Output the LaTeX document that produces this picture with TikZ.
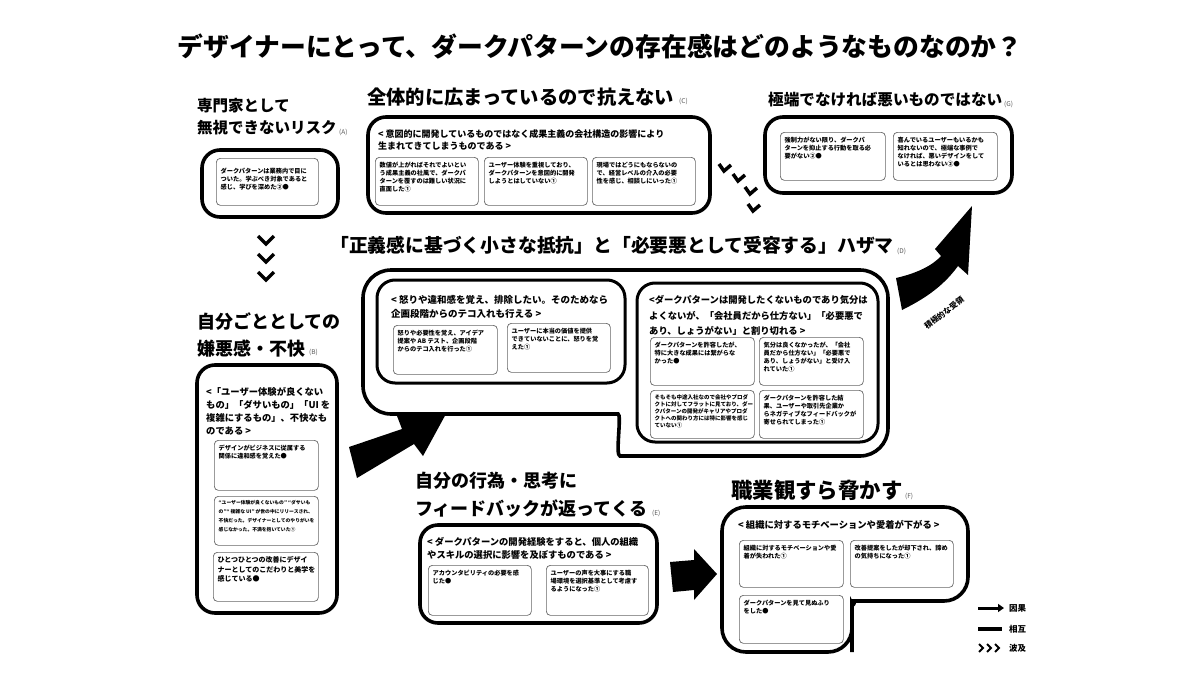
\documentclass[tikz,border=0pt]{standalone}
\usepackage{fontspec}
\setmainfont{Noto Sans CJK JP}
\newcommand{\jph}{\bfseries}
\usetikzlibrary{arrows.meta}
\tikzset{
 bigbox/.style={draw,line width=3.6pt,rounded corners=18pt},
 midbox/.style={draw,line width=3pt,rounded corners=18pt},
 ibox/.style={draw=black!60,line width=0.7pt,rounded corners=4pt,inner sep=0pt},
 itxt/.style={inner sep=0pt,align=left,font=\bfseries\fontsize{6.2}{8.2}\selectfont},
 hdr/.style={inner sep=0pt,align=left,anchor=north west},
 head/.style={inner sep=0pt,align=left},
 tag/.style={inner sep=0pt,anchor=west,text=black!65,font=\fontsize{6.5}{7}\selectfont},
 chev/.style={line width=3.5pt,line join=miter,line cap=butt},
 leg/.style={inner sep=0pt,anchor=west,font=\bfseries\fontsize{8.5}{9}\selectfont},
}
\newcommand{\ibx}[7][]{%
 \node[ibox,minimum width=#5pt,minimum height=#6pt,anchor=north west] (#2) at (#3,#4) {};
 \node[itxt,anchor=north west,#1] (#2t) at ([xshift=4.5pt,yshift=-4.5pt]#2.north west) {#7};}
\begin{document}
\begin{tikzpicture}[x=1pt,y=-1pt]
\useasboundingbox (0,0) rectangle (1200,675);
\fill[white] (0,0) rectangle (1200,675);

% title
\node[inner sep=0pt,font=\bfseries\fontsize{25.8}{30}\selectfont] (title) at (600,46) {デザイナーにとって、ダークパターンの存在感はどのようなものなのか？};

% ---------- A ----------
\node[head,anchor=north west,font=\jph\fontsize{15.5}{22}\selectfont] (hA) at (197,98) {専門家として\\無視できないリスク};
\node[tag] (tA) at (339,132) {(A)};
\draw[bigbox] (202,150) rectangle (338,217);
\ibx[yshift=-5pt]{a1}{216}{158}{102}{47}{ダークパターンは業務内で目に\\ついた。学ぶべき対象であると\\感じ、学びを深めた②●}

% ---------- C ----------
\node[head,anchor=west,font=\jph\fontsize{19.3}{22}\selectfont] (hC) at (367,97) {全体的に広まっているので抗えない};
\node[tag] (tC) at (679,101) {(C)};
\draw[bigbox] (368,117) rectangle (710,213);
\node[hdr,font=\bfseries\fontsize{9}{12}\selectfont] (hdC) at (378,129) {< 意図的に開発しているものではなく成果主義の会社構造の影響により\\生まれてきてしまうものである >};
\ibx{c1}{375}{157}{103}{48}{数値が上がればそれでよいとい\\う成果主義の社風で、ダークパ\\ターンを覆すのは難しい状況に\\直面した①}
\ibx{c2}{484}{157}{103}{48}{ユーザー体験を重視しており、\\ダークパターンを意図的に開発\\しようとはしていない①}
\ibx{c3}{592}{157}{103}{48}{現場ではどうにもならないの\\で、経営レベルの介入の必要\\性を感じ、相談しにいった①}

% ---------- G ----------
\node[head,anchor=west,font=\jph\fontsize{15.6}{20}\selectfont] (hG) at (768,100) {極端でなければ悪いものではない};
\node[tag] (tG) at (1004,104) {(G)};
\draw[bigbox] (765,117) rectangle (1012,193);
\ibx{g1}{780}{132}{105}{48}{強制力がない限り、ダークパ\\ターンを抑止する行動を取る必\\要がない②●}
\ibx{g2}{893}{132}{104}{48}{喜んでいるユーザーもいるかも\\知れないので、極端な事例で\\なければ、悪いデザインをして\\いるとは思わない②●}

% chevrons C -> G
\draw[chev] (719,164) -- (724,171) -- (731,165);
\draw[chev] (733,174) -- (738,181) -- (745,175);
\draw[chev] (745,187) -- (750,194) -- (757,188);
\draw[chev] (748,204) -- (753,211) -- (760,205);

% chevrons A -> B
\draw[chev] (258,236) -- (266,244) -- (274,236);
\draw[chev] (258,254) -- (266,262) -- (274,254);
\draw[chev] (258,272) -- (266,280) -- (274,272);

% ---------- D ----------
\node[head,anchor=west,font=\jph\fontsize{18.8}{24}\selectfont] (hD) at (330,245) {「正義感に基づく小さな抵抗」と「必要悪として受容する」ハザマ};
\node[tag] (tD) at (897,251) {(D)};
\draw[line width=3.6pt,rounded corners=28pt] (363,340) -- (363,270) -- (888,270) -- (888,456) -- (648,456) .. controls (615,456) and (622,414) .. (590,414) -- (363,414) -- cycle;
\draw[midbox] (377,280) rectangle (625,383);
\node[hdr,font=\bfseries\fontsize{9.5}{13.5}\selectfont] (hdD1) at (391,295.5) {< 怒りや違和感を覚え、排除したい。そのためなら\\企画段階からのテコ入れも行える >};
\ibx{d1}{393}{325}{104}{49}{怒りや必要性を覚え、アイデア\\提案や AB テスト、企画段階\\からのテコ入れを行った①}
\ibx{d2}{507}{323}{103}{49}{ユーザーに本当の価値を提供\\できていないことに、怒りを覚\\えた①}
\draw[midbox] (637,283) rectangle (878,442);
\node[hdr,font=\bfseries\fontsize{9.3}{15.5}\selectfont] (hdD2) at (649,295.5) {<ダークパターンは開発したくないものであり気分は\\よくないが、「会社員だから仕方ない」「必要悪で\\あり、しょうがない」と割り切れる >};
\ibx{d3}{650}{337}{104}{48}{ダークパターンを許容したが、\\特に大きな成果には繋がらな\\かった●}
\ibx{d4}{759}{337}{104}{48}{気分は良くなかったが、「会社\\員だから仕方ない」「必要悪で\\あり、しょうがない」と受け入\\れていた①}
\ibx[font=\bfseries\fontsize{5.5}{6.9}\selectfont]{d5}{650}{390}{104}{48}{そもそも中途入社なので会社やプロダ\\クトに対してフラットに見ており、ダー\\クパターンの開発がキャリアやプロダ\\クトへの関わり方には特に影響を感じ\\ていない①}
\ibx{d6}{759}{390}{104}{48}{ダークパターンを許容した結\\果、ユーザーや取引先企業か\\らネガティブなフィードバックが\\寄せられてしまった①}

% arrow D -> G
\fill (896,278) .. controls (918,273) and (933,265) .. (941,256) -- (935,249) -- (972,206) -- (968,275) -- (958,266) .. controls (942,288) and (922,300) .. (902,310) -- cycle;
\node[rotate=37,inner sep=0pt,font=\bfseries\fontsize{7.8}{9}\selectfont] (lblDG) at (944,313) {積極的な受領};

% ---------- B ----------
\node[head,anchor=north west,font=\jph\fontsize{18}{27}\selectfont] (hB) at (197,312) {自分ごととしての\\嫌悪感・不快};
\node[tag] (tB) at (309,352) {(B)};
\draw[bigbox] (197,365) rectangle (337,613);
\node[hdr,font=\bfseries\fontsize{9.3}{13}\selectfont] (hdB) at (206,387.5) {<「ユーザー体験が良くない\\もの」「ダサいもの」「UI を\\複雑にするもの」、不快なも\\のである >};
\ibx{b1}{214}{440}{104}{50}{デザインがビジネスに従属する\\関係に違和感を覚えた●}
\ibx[font=\bfseries\fontsize{4.8}{8.8}\selectfont]{b2}{214}{496}{104}{49}{“ユーザー体験が良くないもの” “ダサいも\\の”“ 複雑な UI” が世の中にリリースされ、\\不快だった。デザイナーとしてのやりがいを\\感じなかった。不満を抱いていた①}
\ibx[font=\bfseries\fontsize{7}{9.3}\selectfont]{b3}{213}{552}{105}{49}{ひとつひとつの改善にデザイ\\ナーとしてのこだわりと美学を\\感じている●}

% arrow B -> D
\fill (349,447) -- (402,429) -- (397,416) -- (447,412) -- (423,456) -- (414,444) -- (357,478) -- cycle;

% ---------- E ----------
\node[head,anchor=north west,font=\jph\fontsize{18}{28}\selectfont] (hE) at (415,472) {自分の行為・思考に\\フィードバックが返ってくる};
\node[tag] (tE) at (652,513) {(E)};
\draw[bigbox] (420,525) rectangle (657,623);
\node[hdr,font=\bfseries\fontsize{9.3}{13}\selectfont] (hdE) at (427,537.5) {< ダークパターンの開発経験をすると、個人の組織\\やスキルの選択に影響を及ぼすものである >};
\ibx{e1}{428}{565}{103}{50}{アカウンタビリティの必要を感\\じた●}
\ibx{e2}{546}{565}{102}{50}{ユーザーの声を大事にする職\\場環境を選択基準として考慮す\\るようになった①}

% arrow E -> F
\fill (670,562) -- (694,560) -- (694,549) -- (717,574) -- (694,600) -- (694,590) -- (673,592) -- cycle;

% ---------- F ----------
\node[head,anchor=west,font=\jph\fontsize{21.4}{24}\selectfont] (hF) at (731,490) {職業観すら脅かす};
\node[tag] (tF) at (905,496) {(F)};
\draw[line width=3.6pt,rounded corners=24pt] (722,560) -- (722,507) -- (968,507) -- (968,601) -- (878,601) .. controls (856,601) and (852,608) .. (852,628) -- (852,652) -- (722,652) -- cycle;
\node[hdr,font=\bfseries\fontsize{9.3}{13}\selectfont] (hdF) at (738,520.5) {< 組織に対するモチベーションや愛着が下がる >};
\ibx{f1}{739}{540}{104}{47}{組織に対するモチベーションや愛\\着が失われた①}
\ibx{f2}{850}{540}{103}{47}{改善提案をしたが却下され、諦め\\の気持ちになった①}
\ibx{f3}{739}{595}{104}{48}{ダークパターンを見て見ぬふり\\をした●}

% ---------- legend ----------
\coordinate (l1a) at (978,608); \coordinate (l1b) at (1004,608);
\draw[line width=3pt,-{Triangle[length=6pt,width=8pt]}] (l1a) -- (l1b);
\node[leg] (lg1) at (1009,608) {因果};
\coordinate (l2a) at (978,629); \coordinate (l2b) at (1002,629);
\draw[line width=3.5pt] (l2a) -- (l2b);
\node[leg] (lg2) at (1009,629) {相互};
\draw[line width=1.8pt,line join=miter] (979,644) -- (983,648) -- (979,652);
\draw[line width=1.8pt,line join=miter] (987,644) -- (991,648) -- (987,652);
\draw[line width=1.8pt,line join=miter] (995,644) -- (999,648) -- (995,652);
\node[leg] (lg3) at (1009,648) {波及};
\end{tikzpicture}
\end{document}
